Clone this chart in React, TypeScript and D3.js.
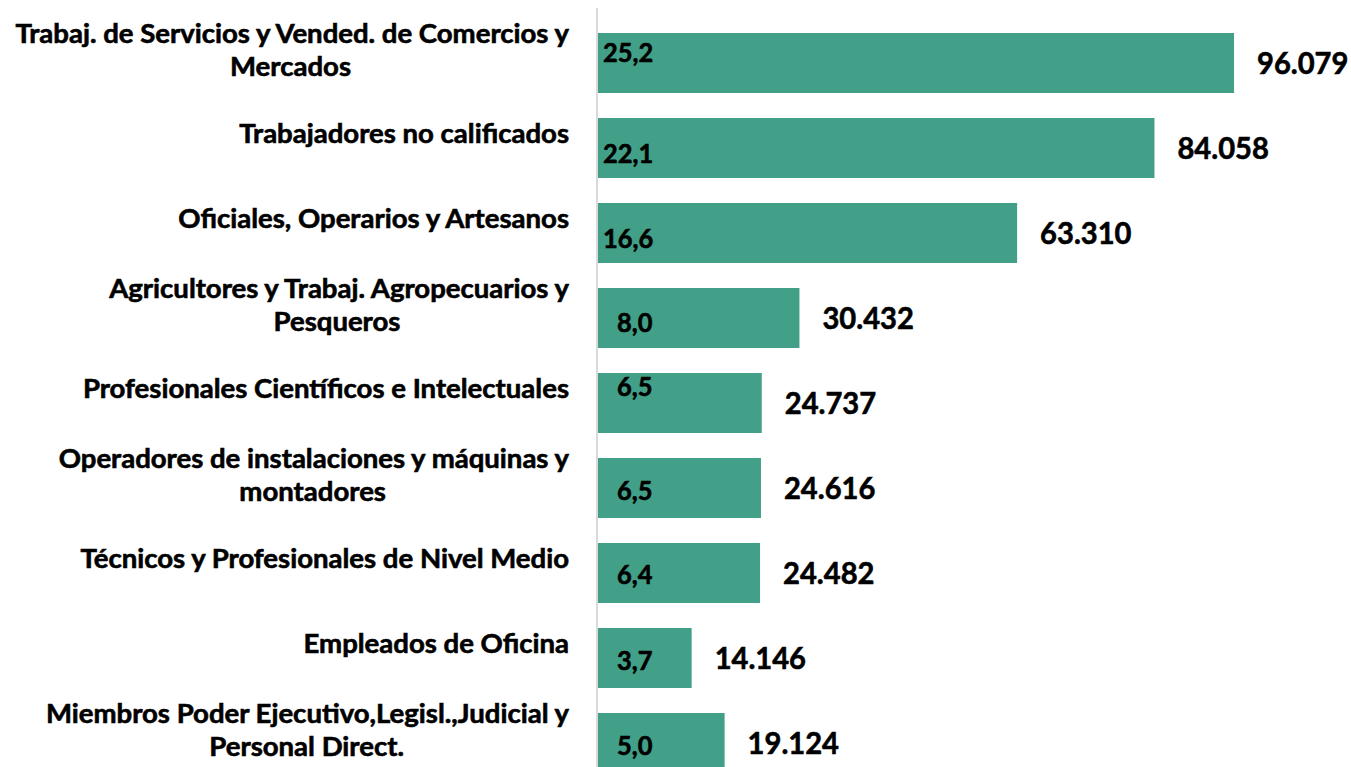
import React from "react";
import * as d3 from "d3";

const categories: string[][] = [
  ["Trabaj. de Servicios y Vended. de Comercios y", "Mercados"],
  ["Trabajadores no calificados"],
  ["Oficiales, Operarios y Artesanos"],
  ["Agricultores y Trabaj. Agropecuarios y", "Pesqueros"],
  ["Profesionales Científicos e Intelectuales"],
  ["Operadores de instalaciones y máquinas y", "montadores"],
  ["Técnicos y Profesionales de Nivel Medio"],
  ["Empleados de Oficina"],
  ["Miembros Poder Ejecutivo,Legisl.,Judicial y", "Personal Direct."],
];
const workers: number[] = [96079, 84058, 63310, 30432, 24737, 24616, 24482, 14146, 19124];
const percents: string[] = ["25,2", "22,1", "16,6", "8,0", "6,5", "6,5", "6,4", "3,7", "5,0"];

// label nudges (layout, as dragged in the original)
const pctDx = [6, 6, 6, 20, 20, 20, 20, 20, 20];
const pctDy = [-11, 5, 5, 4, -17, 2, 1, 2, 2];

const W = 1351;
const H = 767;
const FONT = "Lato, 'Open Sans', sans-serif";
const BAR = "#41a087";

const CAT_SIZE = 26.5;
const CAT_SX = 1.04;

let ctx: CanvasRenderingContext2D | null = null;
function measure(t: string, size: number): number {
  if (!ctx) ctx = document.createElement("canvas").getContext("2d");
  if (!ctx) return t.length * size * 0.5;
  ctx.font = `700 ${size}px Lato, 'Open Sans', sans-serif`;
  return ctx.measureText(t).width;
}

export default function App() {
  const keys = categories.map((_, i) => String(i));
  const y = d3.scaleBand<string>().domain(keys).range([20.5, 785.5]).paddingInner(0.294).paddingOuter(0.147);
  const x = d3.scaleLinear().domain([0, 100000]).range([597, 597 + 662]);
  const fmt = (v: number) => d3.format(",")(v).replace(/,/g, ".");
  const valSX = 0.955;
  const pctSX = 0.96;
  const labelRight = 569;
  const stroke = { stroke: "#000", strokeWidth: 0.6 };

  return (
    <svg width={W} height={H} style={{ position: "absolute", left: 0, top: 0, background: "#fff" }}>
      {keys.map((k, i) => {
        const y0 = y(k)!;
        const c = y0 + y.bandwidth() / 2;
        const lines = categories[i];
        const baselines = lines.length === 1 ? [c - 5] : [c - 20, c + 13];
        const w1 = measure(lines[0], CAT_SIZE) * CAT_SX;
        const blockCenter = labelRight - w1 / 2;
        return (
          <g key={k}>
            <rect x={x(0) + 1} y={y0} width={x(workers[i]) - x(0)} height={y.bandwidth()} fill={BAR} />
            {lines.map((t, j) => (
              <g
                key={j}
                transform={`translate(${j === 0 ? labelRight : blockCenter},${baselines[j]}) scale(${CAT_SX},1)`}
              >
                <text
                  textAnchor={j === 0 ? "end" : "middle"}
                  fontFamily={FONT}
                  fontWeight={700}
                  fontSize={CAT_SIZE}
                  fill="#000"
                  {...stroke}
                >
                  {t}
                </text>
              </g>
            ))}
            <g transform={`translate(${x(workers[i]) + 24},${c + 10.5}) scale(${valSX},1)`}>
              <text fontFamily={FONT} fontWeight={700} fontSize={30.5} fill="#000" {...stroke}>
                {fmt(workers[i])}
              </text>
            </g>
            <g transform={`translate(${x(0) + pctDx[i]},${c + pctDy[i] + 9.5}) scale(${pctSX},1)`}>
              <text fontFamily={FONT} fontWeight={700} fontSize={26.5} fill="#000" {...stroke}>
                {percents[i]}
              </text>
            </g>
          </g>
        );
      })}
      <line x1={597} x2={597} y1={8} y2={H} stroke="#d9d9d9" strokeWidth={2} />
    </svg>
  );
}
